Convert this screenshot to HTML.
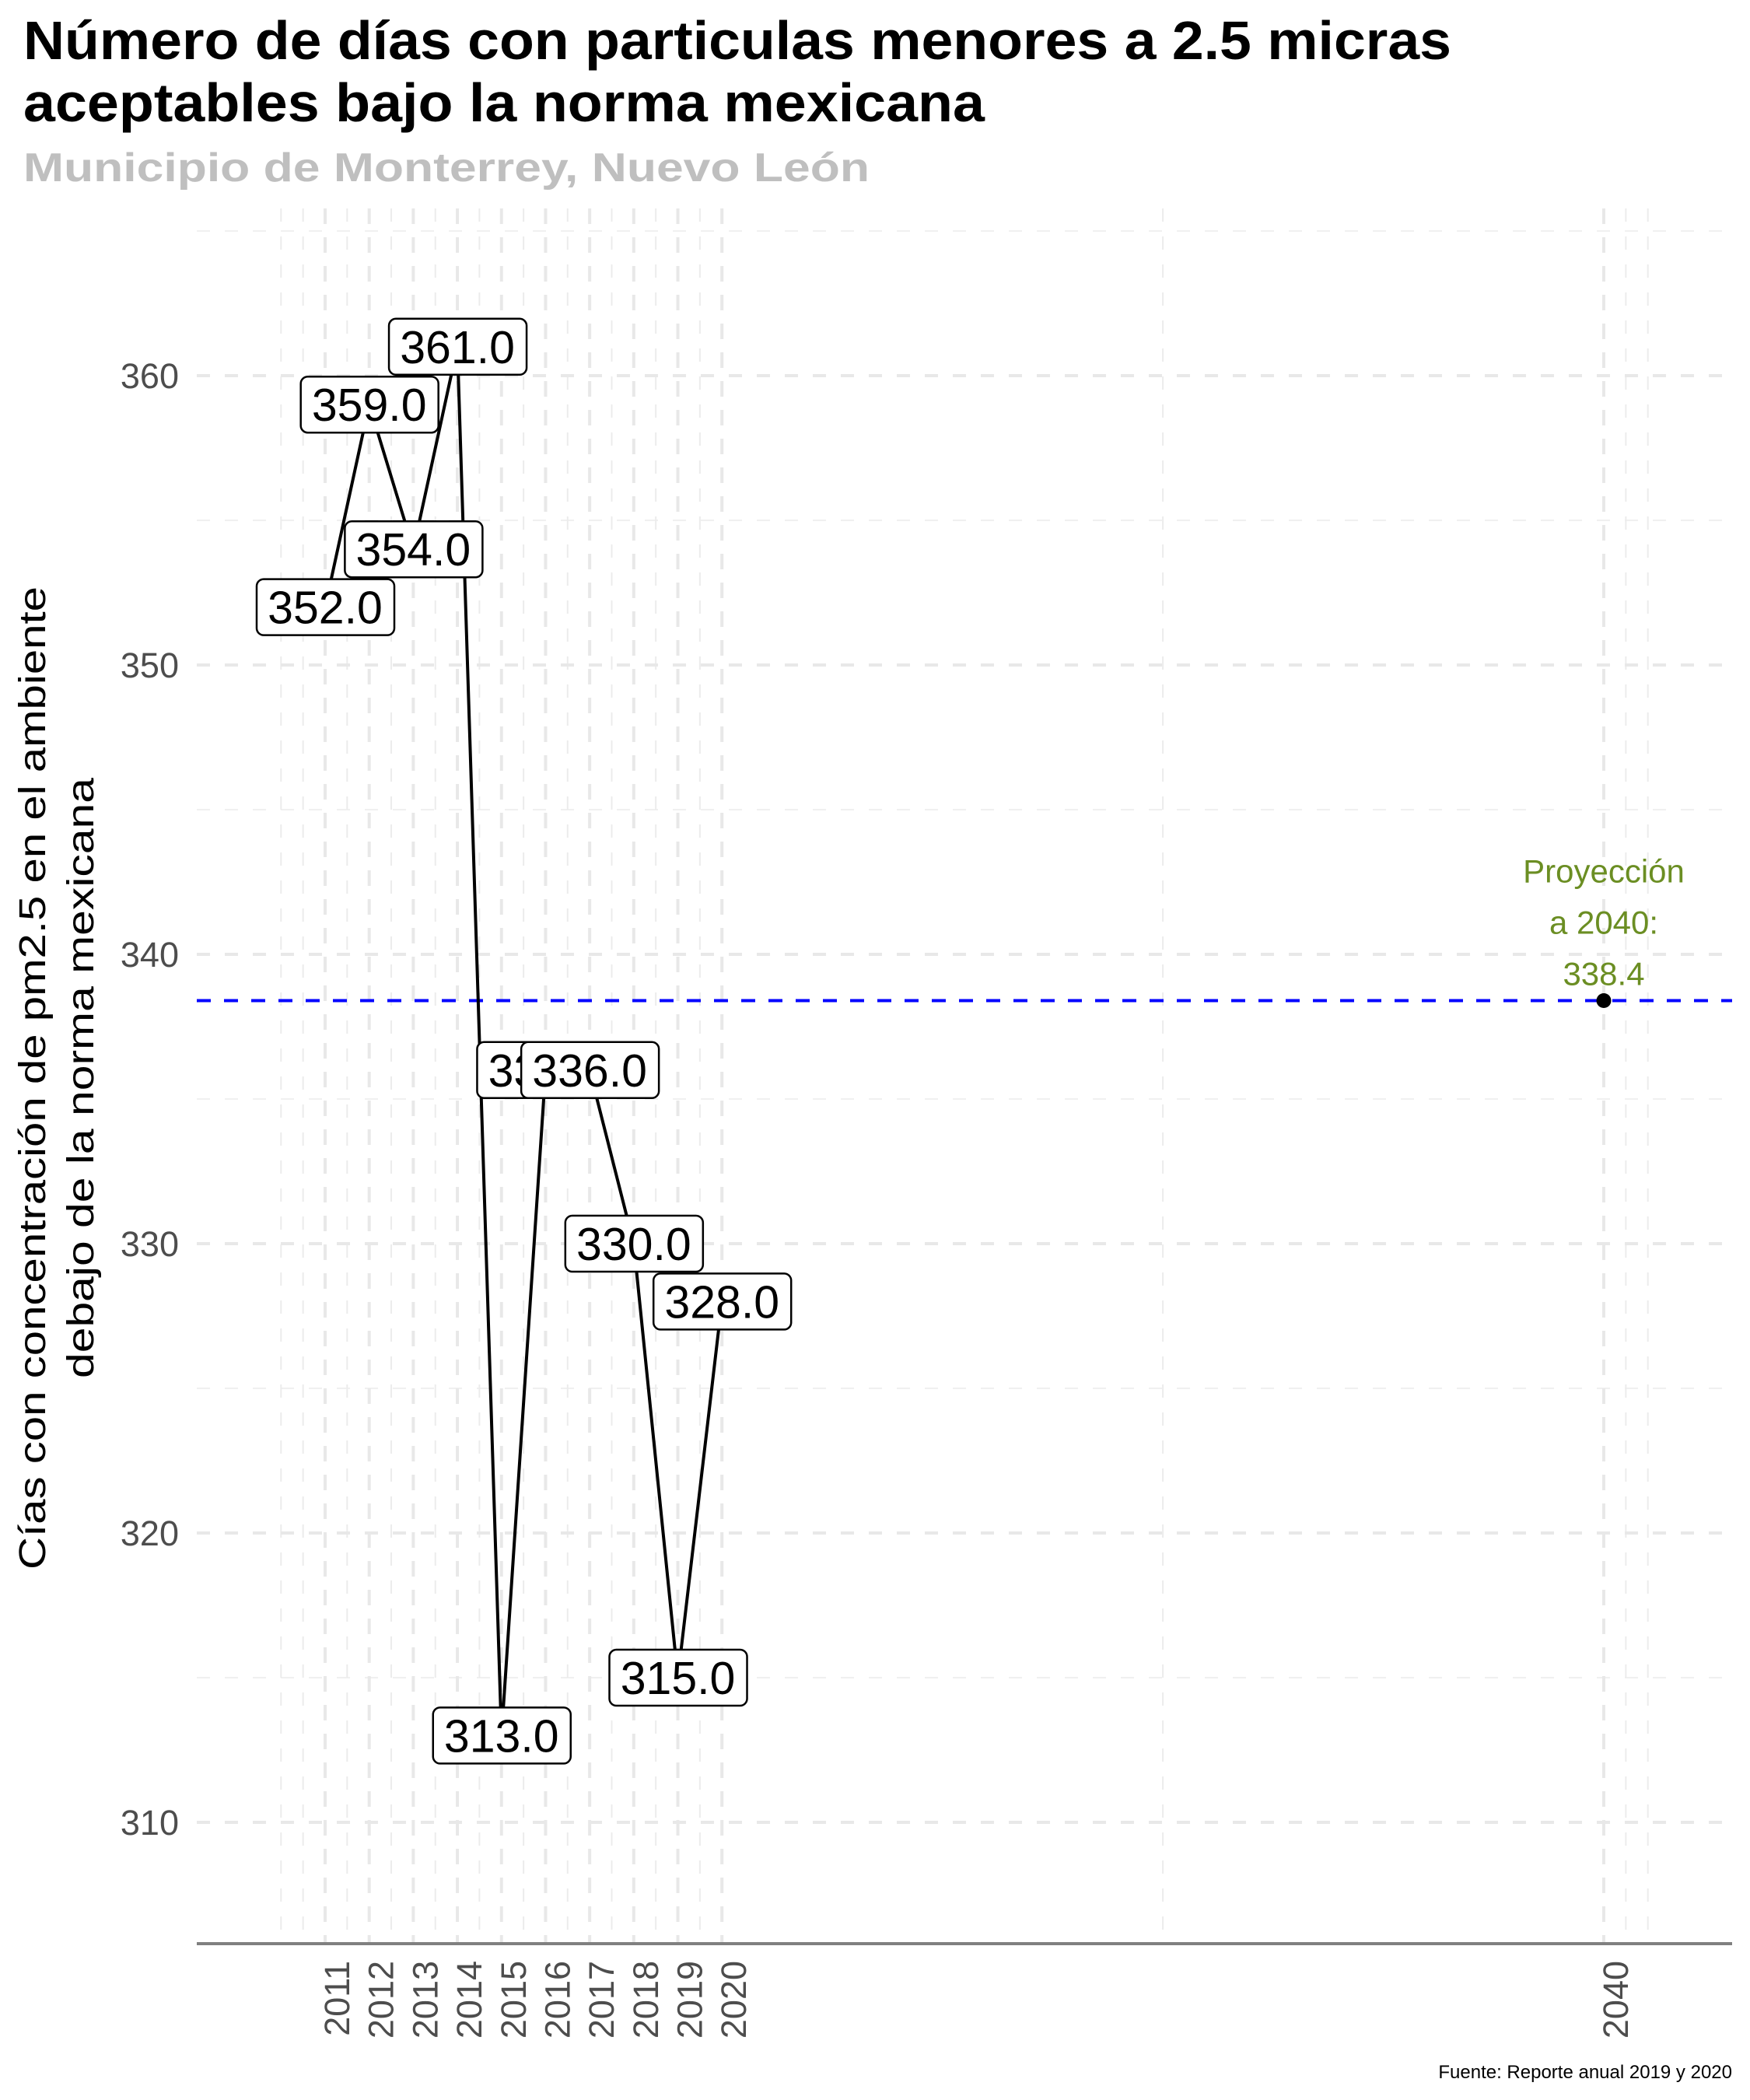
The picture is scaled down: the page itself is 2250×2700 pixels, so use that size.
<!DOCTYPE html>
<html><head><meta charset="utf-8">
<style>
html,body{margin:0;padding:0;background:#fff;}
svg{display:block;}
</style></head>
<body>
<svg id="chart" width="2250" height="2700" viewBox="0 0 2250 2700" xmlns="http://www.w3.org/2000/svg">
<rect x="0" y="0" width="2250" height="2700" fill="#fff"/>
<text x="30" y="76" font-family="Liberation Sans, sans-serif" font-weight="bold" font-size="70" fill="#000" textLength="1836" lengthAdjust="spacingAndGlyphs">Número de días con particulas menores a 2.5 micras</text>
<text x="30" y="156" font-family="Liberation Sans, sans-serif" font-weight="bold" font-size="70" fill="#000" textLength="1236" lengthAdjust="spacingAndGlyphs">aceptables bajo la norma mexicana</text>
<text x="30" y="233" font-family="Liberation Sans, sans-serif" font-weight="bold" font-size="52" fill="#bfbfbf" textLength="1088" lengthAdjust="spacingAndGlyphs">Municipio de Monterrey, Nuevo León</text>
<g id="grid"></g>
<g id="axes"></g>
<g id="marks"></g>
<text transform="translate(58,1386) rotate(-90)" text-anchor="middle" font-family="Liberation Sans, sans-serif" font-size="48" fill="#000" textLength="1264" lengthAdjust="spacingAndGlyphs">Cías con concentración de pm2.5 en el ambiente</text>
<text transform="translate(120,1386) rotate(-90)" text-anchor="middle" font-family="Liberation Sans, sans-serif" font-size="48" fill="#000" textLength="772" lengthAdjust="spacingAndGlyphs">debajo de la norma mexicana</text>
<text x="2227" y="2672" text-anchor="end" font-family="Liberation Sans, sans-serif" font-size="24" fill="#000">Fuente: Reporte anual 2019 y 2020</text>
</svg>
<script>
const years = [2011,2012,2013,2014,2015,2016,2017,2018,2019,2020];
const values = [352,359,354,361,313,336,336,330,315,328];
const labelTexts = ["352.0","359.0","354.0","361.0","313.0","336.0","336.0","330.0","315.0","328.0"];
const xBreaks = [2011,2012,2013,2014,2015,2016,2017,2018,2019,2020,2040];
const xMinorBreaks = [2010,2010.5,2011.5,2012.5,2013.5,2014.5,2015.5,2016.5,2017.5,2018.5,2019.5,2030,2040.5,2041];
const yBreaks = [310,320,330,340,350,360];
const yMinorBreaks = [315,325,335,345,355,365];
const projYear = [2040];
const projValue = [338.4];
const projLines = ["Proyección","a 2040:","338.4"];

const NS = "http://www.w3.org/2000/svg";
function xs(v){ return 418 + (v - 2011) * 56.69; }
function ys(v){ return 1599 - (v - 330) * 37.2; }
const L = 253, R = 2227, T = 268, B = 2499;
function mk(tag, attrs, parent){ const e = document.createElementNS(NS, tag); for (const k in attrs) e.setAttribute(k, attrs[k]); parent.appendChild(e); return e; }
const grid = document.getElementById('grid');
const axes = document.getElementById('axes');
const marks = document.getElementById('marks');

yMinorBreaks.forEach(v => {
  const y = ys(v); if (y < T || y > B) return;
  const l = mk('line', {x1:L, x2:R, y1:y, y2:y, stroke:'#f0f0f0', 'stroke-width':2, 'stroke-dasharray':'17 19'}, grid);
  
  
});
xMinorBreaks.forEach(v => {
  const x = xs(v);
  const l = mk('line', {x1:x, x2:x, y1:T, y2:B, stroke:'#ececec', 'stroke-width':2, 'stroke-dasharray':'17 19'}, grid);
  
  
});
yBreaks.forEach(v => {
  const y = ys(v);
  const l = mk('line', {x1:L, x2:R, y1:y, y2:y, stroke:'#e8e8e8', 'stroke-width':4, 'stroke-dasharray':'17 19'}, grid);
  
  
  const t = mk('text', {x:230, y:y+16, 'text-anchor':'end', 'font-family':'Liberation Sans, sans-serif', 'font-size':45, fill:'#4d4d4d'}, axes);
  t.textContent = v;
  
  
});
xBreaks.forEach(v => {
  const x = xs(v);
  const l = mk('line', {x1:x, x2:x, y1:T, y2:B, stroke:'#e8e8e8', 'stroke-width':4, 'stroke-dasharray':'20 17'}, grid);
  
  
  const t = mk('text', {transform:'translate(' + (x+31) + ',2521) rotate(-90)', 'text-anchor':'end', 'font-family':'Liberation Sans, sans-serif', 'font-size':45, fill:'#4d4d4d'}, axes);
  t.textContent = v;
  
  
});
const ax = mk('line', {x1:L, x2:R, y1:B, y2:B, stroke:'#808080', 'stroke-width':4}, axes);



const pl = mk('line', {x1:L, x2:R, y1:ys(projValue[0]), y2:ys(projValue[0]), stroke:'#0000ff', 'stroke-width':4, 'stroke-dasharray':'18 17'}, marks);



const d = years.map((yr,i) => (i ? 'L' : 'M') + xs(yr).toFixed(1) + ' ' + ys(values[i]).toFixed(1)).join(' ');
const path = mk('path', {d:d, fill:'none', stroke:'#000', 'stroke-width':4, 'stroke-linejoin':'round'}, marks);



years.forEach((yr,i) => {
  const cx = xs(yr), cy = ys(values[i]);
  const g = mk('g', {}, marks);
  
  
  mk('rect', {x:cx-88, y:cy-36, width:177, height:72, rx:9, ry:9, fill:'#fff', stroke:'#000', 'stroke-width':2.5}, g);
  const t = mk('text', {x:cx, y:cy+21, 'text-anchor':'middle', 'font-family':'Liberation Sans, sans-serif', 'font-size':59, fill:'#000'}, g);
  t.textContent = labelTexts[i];
});

const px = xs(projYear[0]), py = ys(projValue[0]);
const dot = mk('circle', {cx:px, cy:py, r:9.5, fill:'#000'}, marks);


projLines.forEach((s,i) => {
  const t = mk('text', {x:px, y:py - 152 + i*66, 'text-anchor':'middle', 'font-family':'Liberation Sans, sans-serif', 'font-size':42, fill:'#6b8e23'}, marks);
  t.textContent = s;
  
  
});
</script>
</body></html>
